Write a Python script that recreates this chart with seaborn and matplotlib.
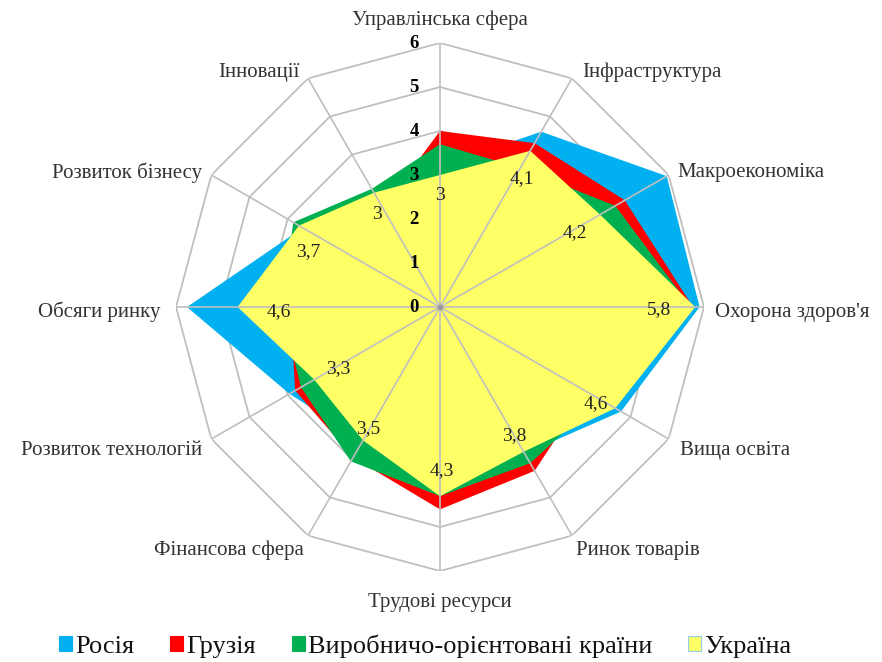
import numpy as np
import matplotlib
matplotlib.use("Agg")
import matplotlib.pyplot as plt
from matplotlib.patches import Patch
import seaborn as sns

# ---------------- data ----------------
categories = ["Управлінська сфера", "Інфраструктура", "Макроекономіка",
              "Охорона здоров'я", "Вища освіта", "Ринок товарів",
              "Трудові ресурси", "Фінансова сфера", "Розвиток технологій",
              "Обсяги ринку", "Розвиток бізнесу", "Інновації"]
russia = [3.2, 4.6, 5.95, 5.9, 4.75, 3.85, 4.0, 3.5, 3.95, 5.75, 3.6, 2.8]
georgia = [4.0, 4.3, 4.85, 5.75, 3.85, 4.3, 4.6, 3.95, 3.8, 3.4, 3.2, 2.6]
production = [3.7, 3.65, 4.6, 5.7, 4.2, 4.1, 4.3, 4.05, 3.65, 3.6, 3.85, 3.1]
ukraine = [3.0, 4.1, 4.2, 5.8, 4.6, 3.8, 4.3, 3.5, 3.3, 4.6, 3.7, 3.0]
ukraine_labels = ["3", "4,1", "4,2", "5,8", "4,6", "3,8", "4,3", "3,5",
                  "3,3", "4,6", "3,7", "3"]
series_names = ["Росія", "Грузія", "Виробничо-орієнтовані країни", "Україна"]
r_ticks = [0, 1, 2, 3, 4, 5, 6]

# ---------------- style ----------------
sns.set_theme(style="white")
plt.rcParams['font.family'] = ['Liberation Serif', 'DejaVu Serif']
colors = sns.color_palette(["#00B0F0", "#FF0000", "#00B050", "#FFFF66"])
grid_color = "#BFBFBF"

W, H = 882, 662
DPI = 100
PX = 72.0 / DPI  # points per pixel
fig = plt.figure(figsize=(W / DPI, H / DPI), dpi=DPI)
cx, cy, R = 440, 307, 264
ax = fig.add_axes([(cx - R) / W, (H - cy - R) / H, 2 * R / W, 2 * R / H],
                  projection='polar')
ax.set_theta_zero_location('N')
ax.set_theta_direction(-1)
ax.set_ylim(0, 6)
ax.grid(False)
ax.set_xticks([])
ax.set_yticks([])
ax.spines['polar'].set_visible(False)
ax.patch.set_alpha(0)

n = len(categories)
theta = np.arange(n) * 2 * np.pi / n
theta_c = np.append(theta, theta[0])

# rings (behind fills)
for lvl in r_ticks[1:]:
    ax.plot(theta_c, [lvl] * (n + 1), color=grid_color, lw=1.3, zorder=1)

# filled series
for i, (vals, col) in enumerate(zip([russia, georgia, production, ukraine], colors)):
    ax.fill(theta_c, np.append(vals, vals[0]), color=col, lw=0, zorder=2 + i)

# spokes (on top of fills)
for t in theta:
    ax.plot([t, t], [0, 6], color=grid_color, lw=1.2, zorder=10)
ax.plot([0], [0], marker='o', ms=3, color='#999999', zorder=11)

# radial tick labels
for lvl in r_ticks:
    ax.annotate(str(lvl), xy=(0, lvl), xytext=(-21 * PX, 0),
                textcoords='offset points', ha='right', va='center',
                fontsize=13.5, fontweight='bold', color='black', zorder=12,
                annotation_clip=False)

# Ukraine data labels (pixel offsets from vertex, y down)
label_offsets = [(0, 20), (-8, 28), (-25, 18), (-36, 3), (-19, -5), (-9, -16),
                 (2, -26), (5, -12), (24, -11), (41, 5), (9, 26), (3, 22)]
for t, v, lab, (dx, dy) in zip(theta, ukraine, ukraine_labels, label_offsets):
    ax.annotate(lab, xy=(t, v), xytext=(dx * PX, -dy * PX),
                textcoords='offset points', ha='center', va='center',
                fontsize=14, color='#222222', zorder=12, annotation_clip=False)

# category labels
cat_layout = [('center', 0, -23), ('left', 10, -6), ('left', 9, -2),
              ('left', 11, 5), ('left', 11, 11), ('left', 4, 15),
              ('center', 0, 31), ('right', -4, 15), ('right', -9, 11),
              ('right', -16, 5), ('right', -9, -2), ('right', -8, -6)]
for t, cat, (ha, dx, dy) in zip(theta, categories, cat_layout):
    ax.annotate(cat, xy=(t, 6), xytext=(dx * PX, -dy * PX),
                textcoords='offset points', ha=ha, va='center',
                fontsize=15, color='#333333', annotation_clip=False)

# legend
handles = [Patch(facecolor=c, edgecolor=(c if i < 3 else '#8DD3F0'), lw=0.8)
           for i, c in enumerate(colors)]
fig.legend(handles, series_names, loc='center', bbox_to_anchor=(0.482, 1 - 646 / H),
           ncol=4, frameon=False, fontsize=19, handlelength=0.5,
           handleheight=0.5, handletextpad=0.12, columnspacing=1.35,
           labelcolor='#111111')

fig.savefig("out.png", dpi=DPI)
